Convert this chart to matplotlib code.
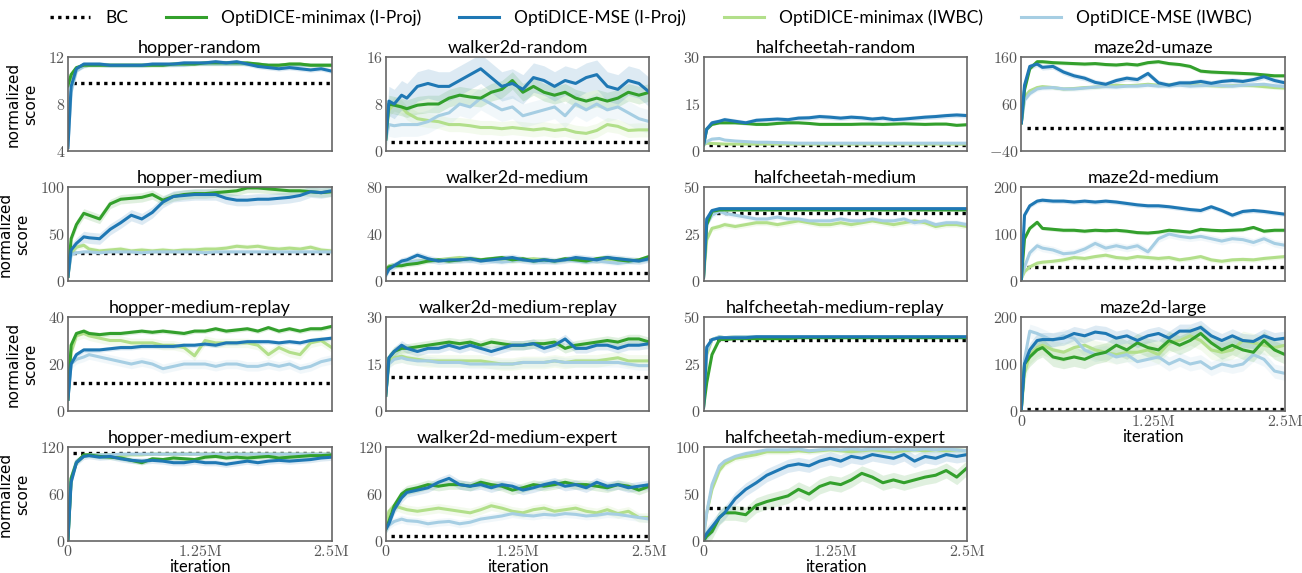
import numpy as np
import matplotlib.pyplot as plt

# iterations in millions
iters = [0, 0.03, 0.08, 0.15, 0.2, 0.3, 0.4, 0.5, 0.6, 0.7, 0.8, 0.9, 1.0, 1.1,
         1.2, 1.3, 1.4, 1.5, 1.6, 1.7, 1.8, 1.9, 2.0, 2.1, 2.2, 2.3, 2.4, 2.5]

labels = ['OptiDICE-minimax (I-Proj)', 'OptiDICE-MSE (I-Proj)',
          'OptiDICE-minimax (IWBC)', 'OptiDICE-MSE (IWBC)']
colors = ['#33a02c', '#1f78b4', '#b2df8a', '#a6cee3']

titles = ['hopper-random', 'walker2d-random', 'halfcheetah-random', 'maze2d-umaze',
          'hopper-medium', 'walker2d-medium', 'halfcheetah-medium', 'maze2d-medium',
          'hopper-medium-replay', 'walker2d-medium-replay', 'halfcheetah-medium-replay', 'maze2d-large',
          'hopper-medium-expert', 'walker2d-medium-expert', 'halfcheetah-medium-expert']

# each panel: [minimax I-Proj, MSE I-Proj, minimax IWBC, MSE IWBC]
hopper_random = [
    [9.6, 10.5, 11.1, 11.3, 11.3, 11.3, 11.3, 11.3, 11.3, 11.3, 11.3, 11.3, 11.4, 11.4, 11.4, 11.5, 11.5, 11.5, 11.5, 11.5, 11.4, 11.3, 11.3, 11.4, 11.4, 11.3, 11.3, 11.3],
    [4.3, 9.5, 11.0, 11.4, 11.4, 11.4, 11.3, 11.3, 11.3, 11.3, 11.4, 11.4, 11.4, 11.5, 11.5, 11.5, 11.6, 11.5, 11.6, 11.4, 11.2, 11.1, 11.0, 11.1, 11.0, 10.9, 11.0, 10.8],
    [9.5, 10.3, 11.0, 11.2, 11.3, 11.3, 11.3, 11.3, 11.3, 11.3, 11.3, 11.3, 11.3, 11.4, 11.4, 11.4, 11.4, 11.4, 11.4, 11.4, 11.4, 11.3, 11.3, 11.4, 11.4, 11.3, 11.3, 11.3],
    [4.5, 9.0, 10.8, 11.2, 11.3, 11.3, 11.3, 11.3, 11.3, 11.3, 11.3, 11.3, 11.3, 11.3, 11.4, 11.4, 11.4, 11.4, 11.4, 11.4, 11.4, 11.3, 11.3, 11.3, 11.3, 11.3, 11.3, 11.3],
]
walker2d_random = [
    [2, 8, 7.8, 7.5, 7.2, 7.8, 8, 8, 9, 9.5, 9.2, 9, 10, 10.5, 12, 10, 11, 10, 9.5, 10, 9, 8.5, 9, 8.5, 9, 10, 9.5, 10],
    [2, 8.5, 8, 9.5, 9, 11, 11.5, 11, 11, 12, 13, 14, 12.5, 11, 11.5, 10.5, 12.5, 12, 11, 12, 11.5, 12.5, 13, 11, 10.5, 12, 11.5, 10],
    [2, 7, 8, 7.5, 6.5, 5.5, 5.2, 5, 4.5, 4.5, 4.3, 4, 4, 3.8, 4, 3.8, 3.6, 3.8, 3.5, 3.7, 3.2, 3, 3.5, 4.5, 4.2, 3.5, 3.6, 3.6],
    [2, 4.5, 4.3, 4.5, 4.5, 4.5, 5, 6, 6.5, 8, 7.5, 9, 8, 7, 7.5, 6, 6.5, 7, 7.5, 6, 8, 7, 8, 7, 7.5, 6.5, 5.5, 5],
]
halfcheetah_random = [
    [2, 7, 8.5, 9, 9, 9, 8.8, 8.5, 8.5, 8.8, 9, 9, 8.8, 8.5, 8.5, 8.5, 8.5, 8.6, 8.6, 8.5, 8.6, 8.7, 8.6, 8.5, 8.6, 8.6, 8.2, 8.4],
    [2, 7, 9, 9.5, 10, 9.5, 9, 9.8, 10, 10.2, 10, 10.5, 10.6, 11, 10.8, 10.5, 10.8, 10.6, 10.2, 10.5, 10, 10.2, 10.5, 10.8, 11, 11.3, 11.5, 11.3],
    [2, 2.5, 2.4, 2.3, 2.2, 2.2, 2.2, 2.2, 2.2, 2.2, 2.2, 2.2, 2.2, 2.2, 2.2, 2.2, 2.2, 2.2, 2.2, 2.2, 2.2, 2.2, 2.2, 2.2, 2.2, 2.2, 2.2, 2.2],
    [2, 3, 3.8, 4, 3.5, 3.2, 3, 2.8, 2.8, 2.7, 2.6, 2.5, 2.5, 2.5, 2.5, 2.5, 2.5, 2.5, 2.5, 2.5, 2.5, 2.5, 2.5, 2.5, 2.5, 2.5, 2.5, 2.5],
]
maze2d_umaze = [
    [20, 90, 135, 150, 150, 148, 147, 146, 145, 146, 144, 143, 145, 143, 148, 150, 146, 144, 140, 130, 128, 127, 126, 125, 124, 122, 120, 120],
    [20, 100, 140, 145, 138, 140, 128, 120, 115, 106, 102, 110, 115, 112, 125, 105, 100, 105, 105, 108, 104, 108, 110, 108, 112, 118, 110, 105],
    [20, 75, 88, 95, 97, 95, 92, 93, 95, 96, 98, 100, 99, 100, 102, 100, 101, 103, 102, 100, 99, 98, 99, 100, 99, 97, 95, 94],
    [20, 68, 82, 92, 94, 95, 92, 92, 94, 96, 97, 96, 98, 98, 100, 98, 99, 100, 98, 99, 100, 99, 98, 100, 101, 102, 99, 97],
]
hopper_medium = [
    [5, 45, 60, 72, 70, 66, 82, 87, 88, 89, 92, 86, 90, 92, 93, 93, 94, 95, 96, 99, 99, 98, 97, 96, 96, 95, 94, 95],
    [5, 33, 40, 47, 46, 45, 55, 62, 70, 66, 73, 84, 90, 91, 92, 92, 92, 88, 86, 86, 87, 87, 88, 89, 91, 95, 94, 96],
    [5, 30, 36, 38, 34, 32, 33, 34, 32, 33, 32, 33, 32, 33, 33, 34, 34, 35, 37, 36, 37, 35, 34, 35, 34, 36, 33, 32],
    [5, 28, 30, 31, 31, 30, 31, 31, 31, 30, 31, 31, 31, 31, 31, 30, 31, 31, 31, 31, 31, 31, 31, 31, 31, 31, 31, 31],
]
walker2d_medium = [
    [10, 12, 13, 13, 14, 15, 17, 18, 17, 18, 19, 18, 19, 20, 18, 19, 17, 18, 17, 19, 18, 17, 19, 20, 18, 17, 18, 21],
    [5, 10, 13, 17, 18, 22, 19, 17, 18, 18, 19, 17, 18, 19, 20, 18, 17, 18, 17, 18, 20, 19, 18, 20, 19, 18, 17, 19],
    [10, 13, 14, 15, 16, 17, 18, 18, 19, 20, 19, 18, 19, 18, 17, 18, 19, 18, 17, 18, 19, 18, 17, 18, 19, 18, 17, 20],
    [8, 12, 14, 15, 16, 17, 17, 18, 17, 18, 17, 18, 17, 16, 17, 18, 17, 16, 17, 18, 17, 16, 17, 16, 15, 16, 17, 18],
]
halfcheetah_medium = [
    [2, 30, 37, 37.8, 37.8, 37.8, 37.8, 37.8, 37.8, 37.8, 37.8, 37.8, 37.8, 37.8, 37.8, 37.8, 37.8, 37.8, 37.8, 37.8, 37.8, 37.8, 37.8, 37.8, 37.8, 37.8, 37.8, 37.8],
    [2, 33, 37.5, 38.5, 38.5, 38.5, 38.5, 38.5, 38.5, 38.5, 38.5, 38.5, 38.5, 38.5, 38.5, 38.5, 38.5, 38.5, 38.5, 38.5, 38.5, 38.5, 38.5, 38.5, 38.5, 38.5, 38.5, 38.5],
    [2, 22, 28, 29, 30, 29, 30, 31, 31, 30, 31, 32, 31, 30, 30, 31, 30, 31, 32, 31, 30, 31, 32, 31, 29, 30, 30, 29],
    [2, 30, 35, 37, 36, 35, 34, 33, 33, 34, 33, 33, 32, 32, 32, 33, 32, 32, 33, 32, 32, 33, 31, 32, 30, 31, 31, 30],
]
maze2d_medium = [
    [5, 90, 112, 125, 112, 110, 108, 108, 106, 108, 107, 108, 106, 103, 102, 104, 108, 106, 104, 110, 108, 107, 108, 109, 114, 106, 108, 108],
    [5, 140, 160, 170, 172, 170, 170, 168, 170, 168, 170, 168, 165, 162, 160, 160, 158, 155, 152, 150, 158, 150, 140, 148, 150, 148, 145, 142],
    [5, 20, 30, 38, 40, 42, 45, 50, 48, 52, 55, 50, 48, 52, 50, 48, 50, 45, 48, 52, 45, 42, 45, 46, 45, 48, 50, 52],
    [5, 30, 60, 75, 70, 66, 58, 60, 68, 80, 70, 75, 70, 75, 62, 90, 100, 95, 92, 95, 90, 85, 90, 88, 82, 90, 80, 76],
]
hopper_medium_replay = [
    [5, 28, 33, 34, 33, 32.5, 33, 33, 33.5, 34, 33.5, 34, 33.5, 33, 34, 34, 35, 34, 34.5, 35, 34, 35.5, 34, 35, 34, 35, 35, 36],
    [5, 20, 24, 26, 26, 26, 26.5, 27, 27, 27.5, 27.5, 27.5, 27.5, 28, 28, 28.5, 28, 29, 29, 29.5, 29.5, 29.5, 29, 29.5, 29, 30, 30.5, 31],
    [5, 25, 32, 33, 32, 31, 30, 30, 29, 29, 29, 28, 28, 27, 23.5, 30, 29, 29, 29, 29, 28, 24, 27, 25, 24, 29, 30, 27],
    [5, 20, 22, 23, 24, 23, 22, 21, 20, 21, 20, 18, 19, 20, 20, 20, 19, 20, 20, 19, 19, 20, 19, 20, 18, 19, 21, 22],
]
walker2d_medium_replay = [
    [5, 17, 19, 20, 20, 20.5, 21, 21.5, 22, 21.5, 22, 21, 22, 21.5, 21, 21, 21.5, 21.5, 22, 20, 21, 21.5, 22, 22.5, 22, 23, 23, 22],
    [5, 17, 19, 21, 20, 19, 20, 20, 21, 20, 21, 20, 19, 20, 21, 21, 21.5, 20, 21, 23, 20, 20, 21, 21, 20, 21, 21, 21.5],
    [5, 16, 17, 17.5, 17, 16.5, 16, 16, 16, 16, 16, 16, 15.5, 15, 15, 15.5, 15.5, 15.5, 16, 15.5, 16, 16, 16, 16.5, 17, 16, 16, 16],
    [5, 15, 16.5, 17, 16.5, 16, 16, 15.5, 15.5, 15.5, 15, 15, 15, 15, 15, 15.5, 15.5, 15.5, 16, 15.5, 15.5, 15.5, 15.5, 15.5, 15.5, 15, 14.5, 14.5],
]
halfcheetah_medium_replay = [
    [2, 15, 30, 38, 38, 38.5, 38.5, 38.5, 38.5, 38.5, 38.5, 39, 39, 39, 39, 39, 39, 39, 39, 39, 39, 39, 39, 39, 39, 39, 39, 39],
    [2, 34, 38, 39, 39, 39, 39, 39.5, 39.5, 39.5, 39.5, 39.5, 39.5, 39.5, 39.5, 39.5, 39.5, 39.5, 39.5, 39.5, 39.5, 39.5, 39.5, 39.5, 39.5, 39.5, 39.5, 39.5],
    [2, 30, 38, 39.5, 39, 39.5, 39.5, 39.5, 39.5, 39.5, 39.5, 39.5, 39.5, 39.5, 39.5, 39.5, 39.5, 39.5, 39.5, 39.5, 39.5, 39.5, 39.5, 39.5, 39.5, 39.5, 39.5, 39.5],
    [2, 32, 38, 39.5, 39, 39.5, 39.5, 39.5, 39.5, 39.5, 39.5, 39.5, 39.5, 39.5, 39.5, 39.5, 39.5, 39.5, 39.5, 39.5, 39.5, 39.5, 39.5, 39.5, 39.5, 39.5, 39.5, 39.5],
]
maze2d_large = [
    [5, 100, 115, 130, 135, 115, 110, 115, 110, 120, 125, 140, 130, 145, 135, 130, 150, 140, 150, 165, 145, 130, 140, 130, 125, 150, 130, 120],
    [5, 100, 130, 150, 152, 152, 155, 165, 160, 168, 165, 155, 160, 150, 160, 165, 155, 170, 170, 178, 160, 150, 160, 150, 148, 160, 152, 155],
    [5, 80, 120, 135, 140, 130, 125, 135, 140, 130, 125, 120, 125, 125, 130, 120, 145, 150, 160, 150, 130, 125, 130, 150, 145, 140, 135, 140],
    [5, 110, 170, 165, 160, 150, 160, 155, 130, 120, 125, 115, 120, 105, 110, 115, 100, 110, 100, 105, 90, 100, 95, 100, 120, 110, 85, 80],
]
hopper_medium_expert = [
    [2, 80, 100, 110, 110, 108, 107, 106, 103, 100, 105, 104, 106, 105, 104, 107, 108, 106, 107, 106, 107, 108, 106, 107, 108, 109, 109, 110],
    [2, 75, 100, 108, 109, 107, 108, 105, 103, 102, 103, 102, 100, 100, 102, 100, 100, 98, 100, 102, 100, 102, 103, 102, 103, 104, 106, 107],
    [2, 78, 100, 108, 110, 110, 110, 109, 110, 110, 111, 111, 111, 111, 111, 111, 111, 111, 111, 111, 111, 111, 111, 111, 111, 111, 111, 111],
    [2, 80, 102, 109, 110, 110, 110, 111, 111, 111, 111, 111, 111, 111, 111, 111, 111, 111, 111, 111, 111, 111, 111, 111, 111, 111, 111, 111],
]
walker2d_medium_expert = [
    [15, 25, 45, 60, 65, 68, 72, 70, 72, 72, 70, 75, 72, 70, 65, 68, 72, 70, 72, 75, 72, 72, 70, 68, 72, 70, 65, 70],
    [15, 22, 40, 55, 62, 65, 68, 75, 80, 72, 70, 72, 68, 72, 70, 65, 68, 72, 75, 70, 72, 68, 75, 70, 72, 68, 70, 72],
    [20, 38, 45, 42, 40, 38, 40, 42, 40, 38, 36, 40, 45, 42, 38, 36, 40, 42, 38, 40, 42, 38, 36, 40, 35, 38, 30, 30],
    [15, 20, 25, 28, 26, 25, 22, 24, 25, 22, 24, 28, 30, 32, 35, 33, 32, 34, 33, 35, 34, 32, 33, 35, 34, 32, 30, 28],
]
halfcheetah_medium_expert = [
    [0, 5, 10, 25, 30, 30, 28, 38, 42, 45, 48, 55, 50, 58, 62, 60, 65, 72, 68, 62, 65, 62, 65, 68, 70, 75, 68, 78],
    [2, 8, 15, 25, 30, 45, 55, 62, 70, 75, 80, 82, 80, 85, 88, 85, 90, 88, 92, 90, 88, 92, 85, 90, 88, 92, 90, 92],
    [5, 30, 55, 75, 82, 88, 90, 92, 95, 95, 95, 96, 95, 96, 97, 96, 95, 96, 97, 96, 95, 96, 97, 96, 97, 96, 97, 96],
    [5, 30, 60, 80, 85, 90, 93, 95, 97, 97, 97, 98, 96, 97, 98, 97, 98, 97, 98, 98, 97, 98, 97, 98, 97, 98, 97, 96],
]

curves = [hopper_random, walker2d_random, halfcheetah_random, maze2d_umaze,
          hopper_medium, walker2d_medium, halfcheetah_medium, maze2d_medium,
          hopper_medium_replay, walker2d_medium_replay, halfcheetah_medium_replay, maze2d_large,
          hopper_medium_expert, walker2d_medium_expert, halfcheetah_medium_expert]

# half-width of shaded band for each curve
bands = [[0.15, 0.2, 0.15, 0.15], [1.5, 2.5, 1.2, 2.0], [0.4, 0.8, 0.2, 0.3], [4, 6, 4, 5],
         [5, 6, 3, 2], [2, 3, 2, 2], [0.5, 0.5, 1.5, 1.5], [4, 5, 5, 8],
         [1, 1, 2, 2], [1.5, 1.5, 2, 1.5], [0.5, 0.5, 0.5, 0.5], [20, 15, 20, 15],
         [3, 4, 1, 1], [6, 6, 6, 5], [8, 7, 3, 3]]

bc_scores = [9.8, 1.5, 2, 10, 30, 7, 36, 30, 12, 11, 38, 5, 112, 7, 35]

y_ticks = [[4, 8, 12], [0, 8, 16], [0, 15, 30], [-40, 60, 160],
           [0, 50, 100], [0, 40, 80], [0, 25, 50], [0, 100, 200],
           [0, 20, 40], [0, 15, 30], [0, 25, 50], [0, 100, 200],
           [0, 60, 120], [0, 60, 120], [0, 50, 100]]

x_ticks = [0, 1.25, 2.5]
x_ticklabels = ['$0$', r'$1.25\mathrm{M}$', r'$2.5\mathrm{M}$']

plt.rcParams['mathtext.fontset'] = 'cm'
sans = ['Lato', 'DejaVu Sans']

fig, axes = plt.subplots(4, 4, figsize=(13.02, 5.73), dpi=100)
fig.subplots_adjust(left=0.0522, right=0.987, top=0.9005, bottom=0.0558,
                    wspace=0.205, hspace=0.383)

handles = []
for i, title in enumerate(titles):
    ax = axes.flat[i]
    bc = ax.axhline(bc_scores[i], color='black', lw=2.4, linestyle=(0, (1, 1.3)),
                    xmin=0.02, xmax=1, zorder=1)
    lines = {}
    for k in [2, 3, 0, 1]:
        y = np.array(curves[i][k])
        ax.fill_between(iters, y - bands[i][k], y + bands[i][k], color=colors[k],
                        alpha=0.15, lw=0)
        lines[k], = ax.plot(iters, y, color=colors[k], lw=2.2, label=labels[k])
    if i == 0:
        handles = [bc] + [lines[k] for k in range(4)]
    ax.set_xlim(0, 2.5)
    ax.set_ylim(y_ticks[i][0], y_ticks[i][-1])
    ax.set_yticks(y_ticks[i])
    ax.set_yticklabels(['$%g$' % v for v in y_ticks[i]])
    ax.set_xticks(x_ticks)
    if i >= 11:
        ax.set_xticklabels(x_ticklabels)
        ax.set_xlabel('iteration', family=sans, fontsize=12, labelpad=0)
    else:
        ax.set_xticklabels([])
    ax.tick_params(length=0, labelsize=11.5, labelcolor='#555555', pad=2)
    for s in ax.spines.values():
        s.set_color('#666666')
        s.set_linewidth(1.2)
    ax.set_title(title, family=sans, fontsize=13, pad=3)
    if i % 4 == 0:
        ax.set_ylabel('normalized\nscore', fontsize=11, labelpad=7)

axes[3, 3].remove()

fig.legend(handles, ['BC'] + labels, loc='upper center', bbox_to_anchor=(0.5, 1.01),
           ncol=5, frameon=False, prop={'family': sans, 'size': 12.5},
           handlelength=2.3, columnspacing=2.2, handletextpad=0.86)

fig.savefig('out.png', dpi=100)
